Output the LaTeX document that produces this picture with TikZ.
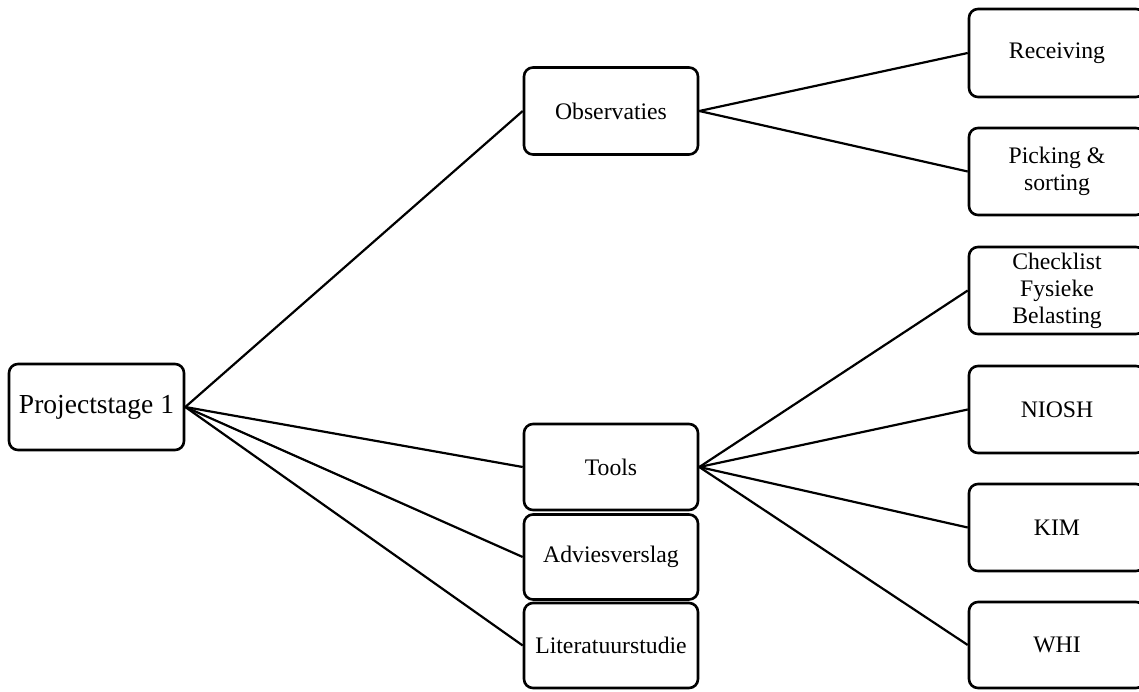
\documentclass[tikz,border=0pt]{standalone}
\usepackage{fontspec}
\setmainfont{Liberation Serif}
\begin{document}
\begin{tikzpicture}[x=1pt,y=-1pt,
  box/.style={draw=black, line width=2.6pt, rounded corners=9pt, fill=white,
    align=center, inner sep=0pt, font=\fontsize{23.7}{27}\selectfont},
  rootbox/.style={box, font=\fontsize{27.5}{31}\selectfont},
  link/.style={draw=black, line width=2.2pt}]
\useasboundingbox (0,0) rectangle (1139,691);
\clip (0,0) rectangle (1139,691);
\fill[white] (0,0) rectangle (1139,691);

% root
\node[rootbox, minimum width=175pt, minimum height=86pt] (root) at (96.5,407) {Projectstage 1};

% second level
\node[box, minimum width=174pt, minimum height=87pt] (obs) at (611,111) {Observaties};
\node[box, minimum width=174pt, minimum height=86pt] (tools) at (611,467) {Tools};
\node[box, minimum width=174pt, minimum height=85pt] (advies) at (611,557) {Adviesverslag};
\node[box, minimum width=174pt, minimum height=85pt] (lit) at (611,645.5) {Literatuurstudie};

% third level
\node[box, minimum width=176pt, minimum height=88pt] (rec) at (1057,53) {Receiving};
\node[box, minimum width=176pt, minimum height=87pt] (pick) at (1057,171.5) {Picking \&\\sorting};
\node[box, minimum width=176pt, minimum height=87pt] (check) at (1057,290.5) {Checklist\\Fysieke\\Belasting};
\node[box, minimum width=176pt, minimum height=87pt] (niosh) at (1057,409.5) {NIOSH};
\node[box, minimum width=176pt, minimum height=87pt] (kim) at (1057,527.5) {KIM};
\node[box, minimum width=176pt, minimum height=86pt] (whi) at (1057,645) {WHI};

% connectors
\foreach \c in {obs,tools,advies,lit}
  \draw[link] (root.east) -- (\c.west);
\foreach \c in {rec,pick}
  \draw[link] (obs.east) -- (\c.west);
\foreach \c in {check,niosh,kim,whi}
  \draw[link] (tools.east) -- (\c.west);
\end{tikzpicture}
\end{document}
